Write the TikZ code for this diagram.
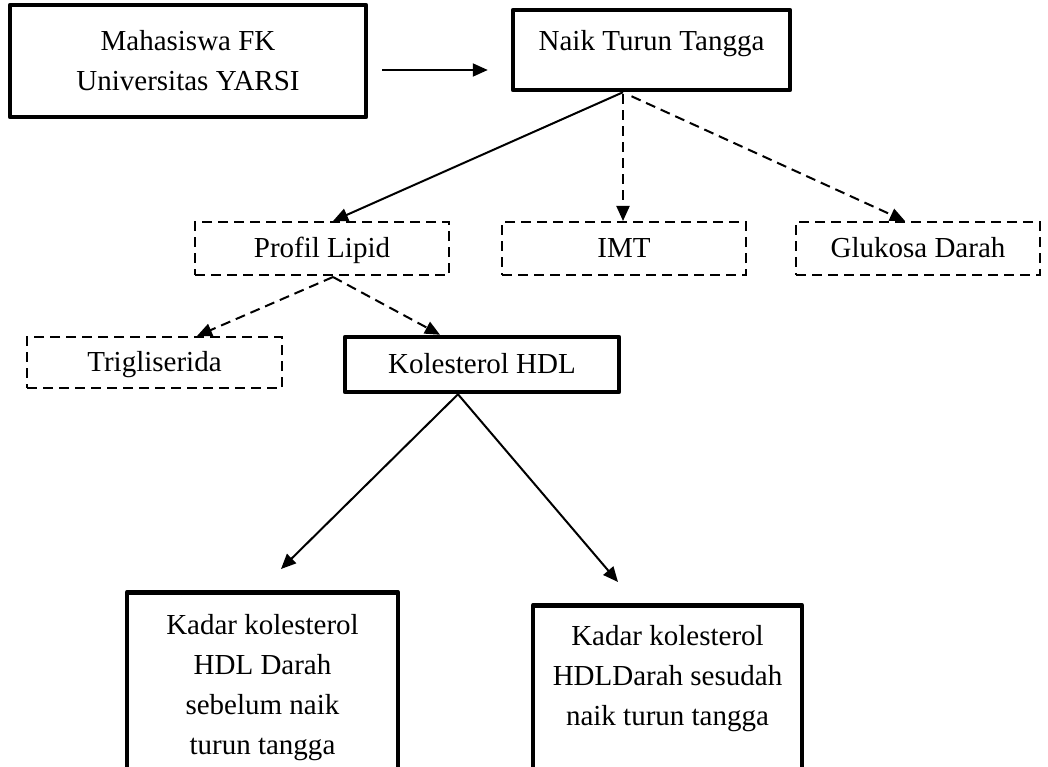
\documentclass[tikz,border=0pt]{standalone}
\usepackage{fontspec}
\setmainfont{Liberation Serif}
\usetikzlibrary{arrows.meta,calc}
\begin{document}
\begin{tikzpicture}[x=1pt,y=-1pt,
  every node/.style={font=\fontsize{29}{40}\selectfont, align=center, inner sep=0pt},
  oneline/.style={text height=20pt, text depth=2pt},
  thickbox/.style={draw, line width=4.5pt, rectangle, line join=round},
  dashbox/.style={draw, line width=2pt, rectangle, dash pattern=on 10pt off 6pt, oneline},
  conn/.style={line width=2pt, -{Triangle[length=15pt,width=13pt]}},
  dconn/.style={conn, dash pattern=on 10pt off 6pt}]
\useasboundingbox (0,0) rectangle (1048,767);

\node[thickbox, minimum width=356pt, minimum height=112pt] (mhs) at (188,61) {Mahasiswa FK\\Universitas YARSI};
\node[thickbox, oneline, minimum width=277pt, minimum height=80pt, text depth=19pt] (naik) at (651.5,50) {Naik Turun Tangga};

\node[dashbox, minimum width=254pt, minimum height=53pt] (profil) at (322,248.5) {Profil Lipid};
\node[dashbox, minimum width=244pt, minimum height=53pt] (imt) at (624,248.5) {IMT};
\node[dashbox, minimum width=244pt, minimum height=53pt] (gluk) at (918,248.5) {Glukosa Darah};

\node[dashbox, minimum width=255pt, minimum height=51pt] (trig) at (154.5,362.5) {Trigliserida};
\node[thickbox, oneline, minimum width=274pt, minimum height=55pt] (kol) at (482,364.5) {Kolesterol HDL};

\node[thickbox, anchor=north, minimum width=271pt, inner ysep=22pt, text depth=40pt] (sebelum) at (262.5,590) {Kadar kolesterol\\HDL Darah\\sebelum naik\\turun tangga};
\node[thickbox, anchor=north, minimum width=269pt, inner ysep=20pt, text depth=80pt] (sesudah) at (667.5,603) {Kadar kolesterol\\HDLDarah sesudah\\naik turun tangga};

\draw[conn] ($(mhs.east)+(14,9)$) -- ($(naik.west)+(-23,20)$);
\draw[conn] ($(naik.south)+(-28.5,0)$) -- ($(profil.north)+(11,0)$);
\draw[dconn] ($(naik.south)+(-28.5,2)$) -- ($(imt.north)+(-1,0)$);
\draw[dconn] ($(naik.south)+(-20,4)$) -- ($(gluk.north)+(-13,0)$);
\draw[dconn] ($(profil.south)+(11,1)$) -- ($(trig.north)+(42.5,0)$);
\draw[dconn] ($(profil.south)+(11,1)$) -- ($(kol.north)+(-42,0)$);
\draw[conn] ($(kol.south)+(-24,0)$) -- ($(sebelum.north)+(18.5,-21)$);
\draw[conn] ($(kol.south)+(-24,0)$) -- ($(sesudah.north)+(-49.5,-21)$);
\end{tikzpicture}
\end{document}
